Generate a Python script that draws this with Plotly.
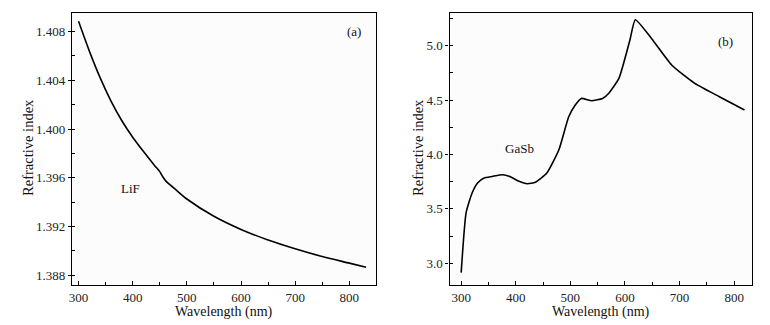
import plotly.graph_objects as go

# LiF (panel a)
lif_wl = [300, 320, 340, 360, 380, 400, 420, 440, 450, 455, 461, 480, 500, 550, 600, 650, 700,
          750, 800, 831]
lif_n = [1.40885, 1.40640, 1.40420, 1.40230, 1.40068, 1.39933, 1.39815, 1.39703, 1.39650,
         1.39612, 1.39574, 1.39500, 1.39425, 1.39283, 1.39175, 1.39088, 1.39016, 1.38952,
         1.38898, 1.38864]

# GaSb (panel b)
gasb_wl = [300, 309, 320, 330, 342, 357, 376, 391, 406, 421, 436, 457, 479, 497, 509, 520,
           539, 559, 570, 589, 609, 619, 649, 686, 728, 773, 819]
gasb_n = [2.914, 3.463, 3.646, 3.738, 3.784, 3.798, 3.814, 3.793, 3.753, 3.731, 3.744, 3.829,
          4.043, 4.347, 4.454, 4.515, 4.494, 4.515, 4.561, 4.699, 5.049, 5.238, 5.064, 4.82,
          4.653, 4.53, 4.408]

FONT = "Liberation Serif, Times New Roman, Times, serif"
fig = go.Figure()
fig.add_trace(go.Scatter(x=lif_wl, y=lif_n, mode="lines",
                         line=dict(color="black", width=1.6, shape="spline", smoothing=0.6),
                         xaxis="x", yaxis="y", showlegend=False))
fig.add_trace(go.Scatter(x=gasb_wl, y=gasb_n, mode="lines",
                         line=dict(color="black", width=1.6, shape="spline", smoothing=0.5),
                         xaxis="x2", yaxis="y2", showlegend=False))

xcommon = dict(showline=True, linecolor="black", linewidth=1.2, mirror=True, showgrid=False,
               zeroline=False, ticks="inside", ticklen=4, tickcolor="black", dtick=100,
               tick0=300, tickfont=dict(family=FONT, size=13, color="#222"),
               minor=dict(ticks="inside", ticklen=3, tickcolor="black", dtick=50, showgrid=False))
ycommon = dict(showline=True, linecolor="black", linewidth=1.2, mirror=True, showgrid=False,
               zeroline=False, ticks="outside", ticklen=3, tickcolor="black",
               tickfont=dict(family=FONT, size=13, color="#222"))

def txt(s, x, y, xref, yref, size=13, angle=0):
    return dict(text=s, x=x, y=y, xref=xref, yref=yref, showarrow=False, textangle=angle,
                xanchor="center", yanchor="middle",
                font=dict(family=FONT, size=size, color="#111"))

fig.update_layout(
    width=770, height=325, margin=dict(l=0, r=0, t=0, b=0),
    paper_bgcolor="white", plot_bgcolor="#fcfcfc",
    xaxis=dict(domain=[0.09, 0.4857], range=[288, 848.4], anchor="y", **xcommon),
    yaxis=dict(domain=[0.123, 0.961], range=[1.38718, 1.40956], anchor="x", dtick=0.004,
               tick0=1.388, tickformat=".3f",
               minor=dict(ticks="inside", ticklen=3, tickcolor="black", dtick=0.002, showgrid=False),
               **ycommon),
    xaxis2=dict(domain=[0.5822, 0.977], range=[278.7, 833.4], anchor="y2", **xcommon),
    yaxis2=dict(domain=[0.123, 0.961], range=[2.80, 5.303], anchor="x2", dtick=0.5,
                tick0=3.0, tickformat=".1f",
                minor=dict(ticks="inside", ticklen=3, tickcolor="black", dtick=0.25, showgrid=False),
                **ycommon),
    annotations=[
        txt("(a)", 808, 1.408, "x", "y"),
        txt("LiF", 396, 1.39513, "x", "y"),
        txt("(b)", 785, 5.04, "x2", "y2"),
        txt("GaSb", 407, 4.058, "x2", "y2"),
        txt("Wavelength (nm)", (69.3 + 374) / 2 / 770, 1 - 312 / 325, "paper", "paper", 14),
        txt("Wavelength (nm)", (448.3 + 752.3) / 2 / 770, 1 - 312 / 325, "paper", "paper", 14),
        txt("Refractive index", 25 / 770, 1 - 147 / 325, "paper", "paper", 14.5, -90),
        txt("Refractive index", 416.5 / 770, 1 - 147 / 325, "paper", "paper", 14.5, -90),
    ],
)
fig.write_html("out.html")
